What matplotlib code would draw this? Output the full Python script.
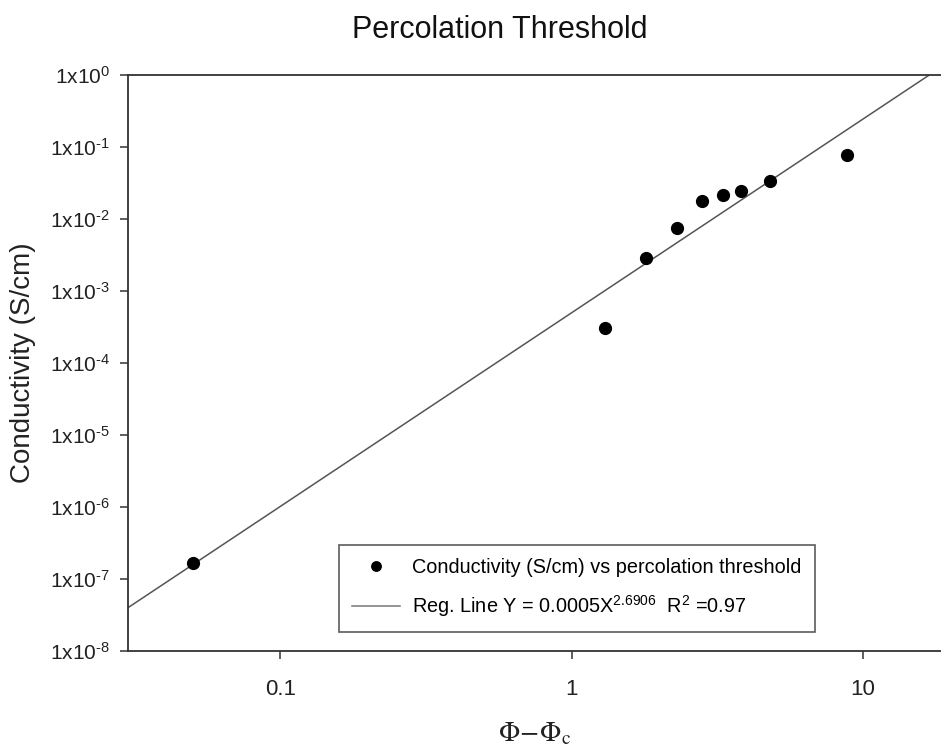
import numpy as np
import matplotlib
matplotlib.use("Agg")
import matplotlib.pyplot as plt
from matplotlib.ticker import FixedLocator, FixedFormatter

plt.rcParams['font.family'] = ['Liberation Sans', 'DejaVu Sans']
plt.rcParams['mathtext.fontset'] = 'custom'
plt.rcParams['mathtext.rm'] = 'Liberation Sans'
plt.rcParams['mathtext.it'] = 'Liberation Sans:italic'
plt.rcParams['mathtext.bf'] = 'Liberation Sans:bold'

# Data
phi_minus_phic = [0.05, 1.3, 1.8, 2.3, 2.8, 3.3, 3.8, 4.8, 8.8]
conductivity = [1.65e-7, 3.1e-4, 2.9e-3, 7.6e-3, 0.018, 0.0215, 0.0247, 0.034, 0.077]
reg_coef = 0.0005
reg_exp = 2.6906
r_squared = 0.97

x_ticks = [0.1, 1, 10]
x_ticklabels = ['0.1', '1', '10']
y_exps = [0, -1, -2, -3, -4, -5, -6, -7, -8]
y_ticks = [10.0 ** e for e in y_exps]
y_ticklabels = [r'1x10$^{\text{%d}}$' % e for e in y_exps]

xlim = (0.03, 18.5)
ylim = (1e-8, 1)

fig = plt.figure(figsize=(9.41, 7.47), dpi=100)
ax = fig.add_axes([128/941, 1-651/747, 1-128/941, (651-75)/747])

xr = np.logspace(np.log10(xlim[0]), np.log10(xlim[1]), 200)
yr = reg_coef * xr ** reg_exp
ax.plot(xr, yr, color='#555555', lw=1.1,
        label=r'Reg. Line Y = %gX$^{\text{%.4f}}$  R$^{2}$ =%.2f' % (reg_coef, reg_exp, r_squared))
ax.plot(phi_minus_phic, conductivity, 'o', color='black', ms=8.5, ls='none',
        label='Conductivity (S/cm) vs percolation threshold')

ax.set_xscale('log')
ax.set_yscale('log')
ax.set_xlim(*xlim)
ax.set_ylim(*ylim)

ax.xaxis.set_major_locator(FixedLocator(x_ticks))
ax.xaxis.set_major_formatter(FixedFormatter(x_ticklabels))
ax.xaxis.set_minor_locator(FixedLocator([]))
ax.yaxis.set_major_locator(FixedLocator(y_ticks))
ax.yaxis.set_major_formatter(FixedFormatter(y_ticklabels))
ax.yaxis.set_minor_locator(FixedLocator([]))

ax.tick_params(axis='both', direction='out', length=6, width=1.1, color='#333333',
               labelsize=15, labelcolor='#222222', pad=7)
ax.tick_params(axis='x', labelsize=16, pad=14)

for s in ['left', 'bottom', 'top']:
    ax.spines[s].set_color('#333333')
    ax.spines[s].set_linewidth(1.3)
ax.spines['right'].set_visible(False)

ax.set_ylabel('Conductivity (S/cm)', fontsize=20, color='#222222', labelpad=10)
fig.text(535/941, 1-734/747, r'$\Phi\!-\!\Phi_{\mathrm{c}}$', fontsize=20, color='#222222',
         ha='center', va='center', math_fontfamily='stix')
fig.text(500/941, 1-30/747, 'Percolation Threshold', fontsize=22, ha='center', va='center',
         color='#111111')

handles, labels = ax.get_legend_handles_labels()
leg = ax.legend(handles[::-1], labels[::-1], loc='lower left',
                bbox_to_anchor=(0.2595, 0.033), borderaxespad=0, fontsize=14.3,
                fancybox=False, frameon=True, edgecolor='#333333', markerscale=0.8,
                handlelength=2.4, handletextpad=0.65, borderpad=0.65, labelspacing=0.8)
leg.get_frame().set_linewidth(1.2)
leg.legend_handles[1].set_color('#777777')

fig.savefig('out.png', dpi=100)
